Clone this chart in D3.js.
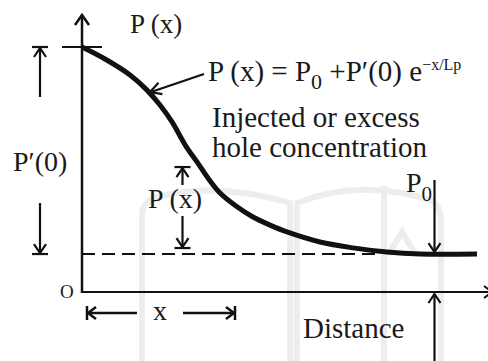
<!DOCTYPE html>
<html>
<head>
<meta charset="utf-8">
<script src="https://cdn.jsdelivr.net/npm/d3@7/dist/d3.min.js"></script>
<style>
  html, body { margin: 0; padding: 0; background: #fff; }
  svg { display: block; }
  text { font-family: "Liberation Serif", "Times New Roman", serif; fill: #1a1a1a; }
</style>
</head>
<body>
<svg id="chart" width="488" height="361"></svg>
<script>
// Hole concentration P(x) versus distance from the injection plane
const distance = [0, 0.575, 1.2, 1.625, 1.95, 2.25, 2.625, 2.875, 3.15, 3.45, 3.85, 4.275, 4.7, 5.125, 5.95, 6.775, 7.625, 8.45, 9.875];
const holeConc = [10, 9.51, 8.86, 8.24, 7.63, 6.94, 5.88, 5.31, 4.65, 4.04, 3.51, 3.06, 2.73, 2.45, 2.04, 1.80, 1.63, 1.55, 1.55];
const P0 = 1.55;          // equilibrium hole concentration
const Ptop = 10;          // P(0) = P0 + P'(0)
const sampleX = 2.525;    // position marked by the P(x) dimension arrows
const sampleP = 5.1;      // P(x) value at that position (arrow tip)
const p0Mark = 8.8;       // position of the P0 pointer
const labels = {
  yAxis: "P (x)",
  excess: "P\u2032(0)",
  px: "P (x)",
  origin: "O",
  x: "x",
  distance: "Distance",
  note1: "Injected or excess",
  note2: "hole concentration"
};

const svg = d3.select("#chart");
const W = 488, H = 361;

const x = d3.scaleLinear().domain([0, 10]).range([82, 482]);
const y = d3.scaleLinear().domain([0, 10]).range([292, 47]);

const ink = "#111";

// faint background emblem
const wm = svg.append("g").attr("fill", "none").attr("stroke", "#ededed").attr("stroke-width", 6);
wm.append("path").attr("d", "M142,361 L142,214 Q143,200 160,196 Q220,182 290,203 L290,361");
wm.append("path").attr("d", "M297,361 L297,203 Q360,178 430,200 Q441,205 441,222 L441,361");
wm.append("path").attr("d", "M384,361 L384,186");
wm.append("path").attr("d", "M388,255 L402,232 L416,255");

// chevron arrowhead pointing in direction (dx, dy) with tip at (tx, ty)
function chevron(g, tx, ty, dx, dy, len = 9, half = 6, sw = 2.2) {
  const n = Math.hypot(dx, dy); const ux = dx / n, uy = dy / n;
  const px = -uy, py = ux;
  const bx = tx - ux * len, by = ty - uy * len;
  g.append("path")
    .attr("d", `M${bx + px * half},${by + py * half} L${tx},${ty} L${bx - px * half},${by - py * half}`)
    .attr("fill", "none").attr("stroke", ink).attr("stroke-width", sw)
    .attr("stroke-linejoin", "miter");
}
function line(g, x1, y1, x2, y2, sw = 2.2) {
  g.append("line").attr("x1", x1).attr("y1", y1).attr("x2", x2).attr("y2", y2)
    .attr("stroke", ink).attr("stroke-width", sw);
}

const g = svg.append("g");

// axes
line(g, x(0), y(0) + 1, x(0), 15, 2.5);
chevron(g, x(0), 15, 0, -1, 10, 7, 2.5);
line(g, x(0) - 1, y(0), W + 2, y(0), 2);
chevron(g, W + 4, y(0), 1, 0, 8, 6, 2);
// top reference tick at P(0)
line(g, x(0) - 20, y(Ptop), x(0) + 20, y(Ptop), 2);

// equilibrium level P0
g.append("line")
  .attr("x1", x(0)).attr("x2", x(7.4))
  .attr("y1", y(P0)).attr("y2", y(P0))
  .attr("stroke", ink).attr("stroke-width", 2)
  .attr("stroke-dasharray", "13,7");

// concentration profile
const curve = d3.line()
  .x((d, i) => x(distance[i]))
  .y((d, i) => y(holeConc[i]))
  .curve(d3.curveCatmullRom.alpha(0.5));
g.append("path")
  .attr("d", curve(distance))
  .attr("fill", "none").attr("stroke", ink)
  .attr("stroke-width", 5).attr("stroke-linecap", "butt");

// P'(0) dimension arrows on the left
const lx = 40;
line(g, lx, y(Ptop) + 1, lx, 97);
chevron(g, lx, y(Ptop) + 1, 0, -1, 9, 6);
line(g, lx - 8, y(Ptop), lx + 8, y(Ptop));
line(g, lx, 203, lx, y(P0) - 1);
chevron(g, lx, y(P0) - 1, 0, 1, 9, 6);
line(g, lx - 8, y(P0), lx + 8, y(P0));

// P(x) dimension arrows
const mx = x(sampleX) - 0.5;
line(g, mx, y(sampleP) + 1, mx, 185);
chevron(g, mx, y(sampleP) + 1, 0, -1, 9, 6);
line(g, mx - 8, y(sampleP), mx + 8, y(sampleP));
line(g, mx, 216, mx, y(P0) - 7);
chevron(g, mx, y(P0) - 7, 0, 1, 9, 6);
line(g, mx - 8, y(P0) - 6, mx + 8, y(P0) - 6);

// P0 pointer
const rx = x(p0Mark) + 0.5;
line(g, rx, 180, rx, y(P0) - 2);
chevron(g, rx, y(P0) - 2, 0, 1, 9, 6);
line(g, rx, H + 2, rx, y(0) + 2);
chevron(g, rx, y(0) + 2, 0, -1, 9, 6);

// x span arrows
const ay = 313;
line(g, x(0) + 5, ay, 137, ay, 2.5);
chevron(g, x(0) + 6, ay, -1, 0, 8, 6, 2.5);
line(g, x(0) + 5, ay - 7, x(0) + 5, ay + 7, 2.5);
line(g, 183, ay, 235, ay, 2.5);
chevron(g, 234, ay, 1, 0, 8, 6, 2.5);
line(g, 235, ay - 7, 235, ay + 7, 2.5);

// pointer from the formula to the curve
line(g, 204, 74, 151, 92);
chevron(g, 150, 92, -53, 18, 11, 6);

// text
const T = (tx, ty, s, size = 28) => svg.append("text").attr("x", tx).attr("y", ty)
  .attr("font-size", size).text(s);
T(130, 33, labels.yAxis, 27);
T(13, 171, labels.excess);
T(148, 208, labels.px);
T(60, 298, labels.origin, 19);
T(153, 320, labels.x);
T(303, 338, labels.distance, 29);
T(212, 127, labels.note1, 29);
T(212, 157, labels.note2, 29);

// P0 label
const p0 = svg.append("text").attr("x", 406).attr("y", 192).attr("font-size", 28);
p0.append("tspan").text("P");
p0.append("tspan").attr("font-size", 21).attr("dy", 9).text("0");

// formula
const f = svg.append("text").attr("x", 208).attr("y", 81).attr("font-size", 29);
f.append("tspan").text("P (x) = P");
f.append("tspan").attr("font-size", 22).attr("dy", 8).text("0");
f.append("tspan").attr("dy", -8).text(" +P\u2032(0) e");
f.append("tspan").attr("font-size", 16).attr("dy", -11).text("\u2212x/Lp");
</script>
</body>
</html>
